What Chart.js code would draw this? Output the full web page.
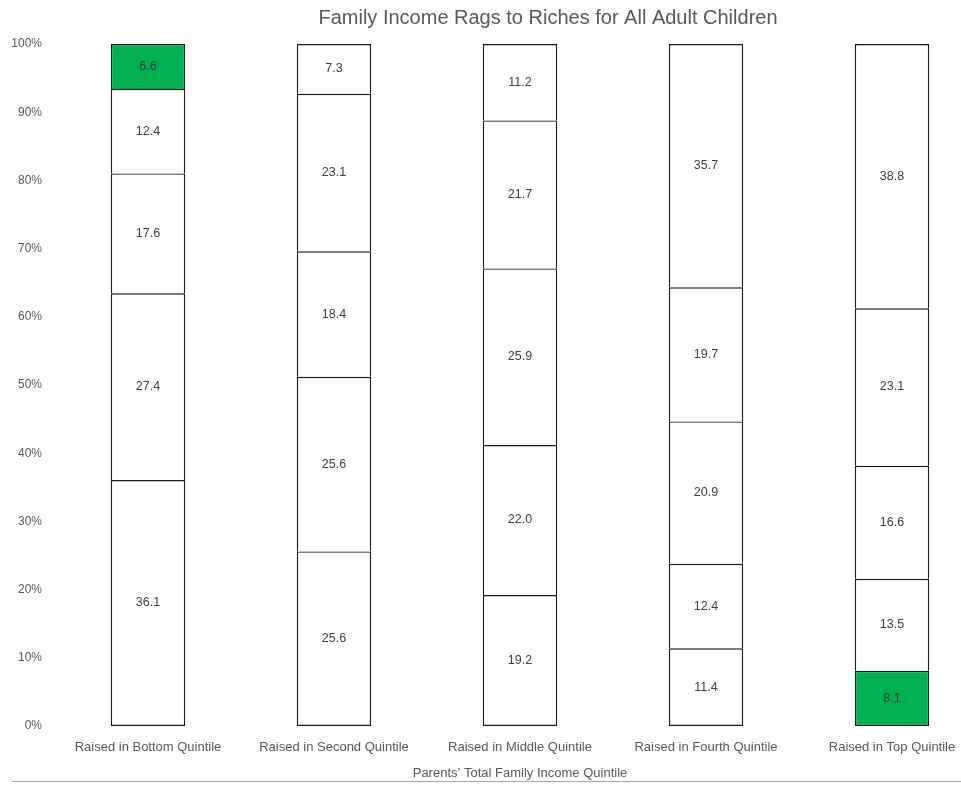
<!DOCTYPE html>
<html>
<head>
<meta charset="utf-8">
<title>Family Income Rags to Riches</title>
<script src="https://cdn.jsdelivr.net/npm/chart.js@4/dist/chart.umd.min.js"></script>
<style>
  html, body { margin: 0; padding: 0; background: #fff; overflow: hidden; }
  #wrap { position: relative; width: 1000px; height: 786px; }
  #rule { position: absolute; left: 12px; top: 781px; width: 949px; height: 1px; background: #a6a6a6; }
</style>
</head>
<body>
<div id="wrap">
  <canvas id="chart"></canvas>
  <div id="rule"></div>
</div>
<script>
const categories = [
  "Raised in Bottom Quintile",
  "Raised in Second Quintile",
  "Raised in Middle Quintile",
  "Raised in Fourth Quintile",
  "Raised in Top Quintile"
];

// share of adult children ending in each quintile, bottom segment first
const bottomQuintile = [36.1, 25.6, 19.2, 11.4, 8.1];
const secondQuintile = [27.4, 25.6, 22.0, 12.4, 13.5];
const middleQuintile = [17.6, 18.4, 25.9, 20.9, 16.6];
const fourthQuintile = [12.4, 23.1, 21.7, 19.7, 23.1];
const topQuintile    = [6.6, 7.3, 11.2, 35.7, 38.8];

const segments = [bottomQuintile, secondQuintile, middleQuintile, fourthQuintile, topQuintile];
const segmentNames = ["Bottom", "Second", "Middle", "Fourth", "Top"];

// [segment, category] cells drawn in green
const highlighted = [[4, 0], [0, 4]];

const chartTitle = "Family Income Rags to Riches for All Adult Children";
const xTitle = "Parents\u2019 Total Family Income Quintile";

const totals = categories.map((c, j) => segments.reduce((s, seg) => s + seg[j], 0));

function isGreen(i, j) {
  return highlighted.some(h => h[0] === i && h[1] === j);
}

const datasets = segments.map((seg, i) => ({
  label: segmentNames[i],
  data: seg.map((v, j) => v / totals[j] * 100),
  backgroundColor: seg.map((v, j) => isGreen(i, j) ? "#00b050" : "#ffffff"),
  borderColor: "#1a1a1a",
  borderWidth: 1.4,
  // lower segment already draws the shared edge
  borderSkipped: i === 0 ? false : "bottom",
  categoryPercentage: 1,
  barPercentage: 0.4
}));

const valueLabels = {
  id: "valueLabels",
  afterDatasetsDraw(chart) {
    const ctx = chart.ctx;
    ctx.save();
    ctx.font = "12.5px 'Liberation Sans', Arial, sans-serif";
    ctx.fillStyle = "#404040";
    ctx.textAlign = "center";
    ctx.textBaseline = "middle";
    chart.data.datasets.forEach((ds, i) => {
      chart.getDatasetMeta(i).data.forEach((bar, j) => {
        const p = bar.getProps(["x", "y", "base"], true);
        ctx.fillText(segments[i][j].toFixed(1), p.x, (p.y + p.base) / 2);
      });
    });
    ctx.restore();
  }
};

const topTitle = {
  id: "topTitle",
  afterDraw(chart) {
    const ctx = chart.ctx;
    ctx.save();
    ctx.font = "20px 'Liberation Sans', Arial, sans-serif";
    ctx.fillStyle = "#595959";
    ctx.textAlign = "center";
    ctx.textBaseline = "middle";
    ctx.fillText(chartTitle, 548, 18);
    ctx.restore();
  }
};

Chart.defaults.font.family = "'Liberation Sans', Arial, sans-serif";
Chart.defaults.color = "#595959";

new Chart(document.getElementById("chart"), {
  type: "bar",
  data: { labels: categories, datasets: datasets },
  options: {
    responsive: true,
    maintainAspectRatio: false,
    animation: false,
    layout: { padding: { top: 44, right: 15, bottom: 0, left: 0 } },
    plugins: {
      legend: { display: false },
      title: { display: false },
      tooltip: { enabled: false }
    },
    scales: {
      x: {
        stacked: true,
        grid: { display: false, drawTicks: false },
        border: { display: false },
        ticks: { font: { size: 13 }, padding: 14, maxRotation: 0, autoSkip: false },
        title: { display: true, text: xTitle, font: { size: 13 }, padding: { top: 4, bottom: 5 } },
        afterFit(scale) { scale.height = 60; }
      },
      y: {
        stacked: true,
        min: 0,
        max: 100,
        grid: { display: false, drawTicks: false },
        border: { display: false },
        ticks: { stepSize: 10, font: { size: 12 }, padding: 13, callback: v => v + "%" },
        afterFit(scale) { scale.width = 55; }
      }
    }
  },
  plugins: [valueLabels, topTitle]
});
</script>
</body>
</html>
